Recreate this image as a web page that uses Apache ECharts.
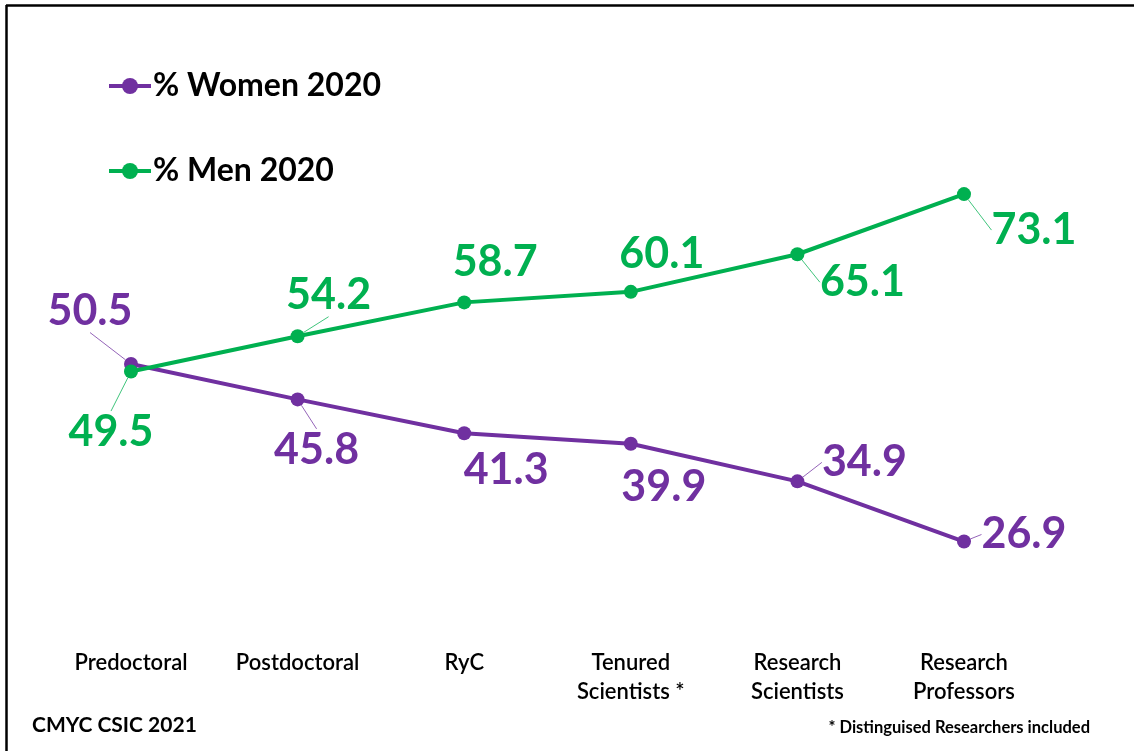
<!DOCTYPE html>
<html>
<head>
<meta charset="utf-8">
<title>% Women and Men by research category, CSIC 2020</title>
<script src="https://cdn.jsdelivr.net/npm/echarts@6/dist/echarts.min.js"></script>
<style>
  html, body { margin: 0; padding: 0; background: #ffffff; }
  #chart { width: 1134px; height: 751px; }
</style>
</head>
<body>
<div id="chart"></div>
<script>
// Research career categories (x axis)
const categories = [
  'Predoctoral',
  'Postdoctoral',
  'RyC',
  'Tenured\nScientists *',
  'Research\nScientists',
  'Research\nProfessors'
];

// Share of staff in each category, 2020 (%)
const women = [50.5, 45.8, 41.3, 39.9, 34.9, 26.9];
const men = [49.5, 54.2, 58.7, 60.1, 65.1, 73.1];

const seriesNames = ['% Women 2020', '% Men 2020'];
const footSource = 'CMYC CSIC 2021';
const footNote = '* Distinguised Researchers included';

// Label placement relative to each point (px) and whether a leader line is drawn
const labelShift = [
  [[-41, -53], [19, 51], [42, 37], [33, 43], [67, -19], [60, -7]],
  [[-20, 61], [31, -41], [31, -40], [31, -38], [65, 28], [70, 36]]
];
const leader = [
  [true, true, false, false, true, true],
  [true, true, false, false, true, true]
];

const PURPLE = '#7030A0';
const GREEN = '#00B050';
const FONT = 'Lato, "Open Sans", sans-serif';

function buildData(values, s) {
  return values.map((v, i) => ({
    value: v,
    labelLine: { show: leader[s][i] }
  }));
}

function lineSeries(name, values, color, s) {
  return {
    name: name,
    type: 'line',
    data: buildData(values, s),
    symbol: 'circle',
    symbolSize: 14,
    lineStyle: { color: color, width: 4 },
    itemStyle: { color: color },
    label: {
      show: true,
      position: 'inside',
      color: color,
      fontFamily: FONT,
      fontWeight: 'bold',
      fontSize: 43,
      formatter: p => p.value.toFixed(1)
    },
    labelLine: {
      show: true,
      lineStyle: { color: color, width: 1, opacity: 0.75 }
    },
    labelLayout: p => ({
      dx: labelShift[s][p.dataIndex][0],
      dy: labelShift[s][p.dataIndex][1]
    }),
    emphasis: { disabled: true },
    animation: false
  };
}

const chart = echarts.init(document.getElementById('chart'), null, { renderer: 'canvas' });

chart.setOption({
  backgroundColor: '#ffffff',
  animation: false,
  legend: {
    orient: 'vertical',
    left: 107,
    top: 70,
    padding: 0,
    itemWidth: 42,
    itemHeight: 20,
    itemGap: 53,
    lineStyle: { width: 4 },
    textStyle: {
      color: '#000000',
      fontFamily: FONT,
      fontWeight: 'bold',
      fontSize: 32,
      lineHeight: 32,
      padding: [0, 0, 0, -3]
    },
    data: seriesNames
  },
  grid: {
    left: 47.7,
    right: 86.7,
    top: 142.2,
    bottom: 157.6,
    containLabel: false
  },
  xAxis: {
    type: 'category',
    data: categories,
    boundaryGap: true,
    axisLine: { show: false },
    axisTick: { show: false },
    splitLine: { show: false },
    axisLabel: {
      interval: 0,
      margin: 55,
      color: '#000000',
      fontFamily: FONT,
      fontWeight: 600,
      fontSize: 22,
      lineHeight: 29
    }
  },
  yAxis: {
    type: 'value',
    min: 20,
    max: 80,
    show: false
  },
  series: [
    lineSeries(seriesNames[0], women, PURPLE, 0),
    lineSeries(seriesNames[1], men, GREEN, 1)
  ],
  graphic: [
    // frame along the top and left edges
    {
      type: 'line',
      shape: { x1: 6, y1: 5.5, x2: 1134, y2: 5.5 },
      style: { stroke: '#000000', lineWidth: 2.5 }
    },
    {
      type: 'line',
      shape: { x1: 6.5, y1: 5, x2: 6.5, y2: 751 },
      style: { stroke: '#000000', lineWidth: 2.5 }
    },
    {
      type: 'text',
      left: 32,
      top: 715,
      style: {
        text: footSource,
        fill: '#000000',
        font: 'bold 21px ' + FONT
      }
    },
    {
      type: 'text',
      right: 44,
      top: 719,
      style: {
        text: footNote,
        fill: '#000000',
        font: 'bold 16.5px ' + FONT
      }
    }
  ]
});
</script>
</body>
</html>
